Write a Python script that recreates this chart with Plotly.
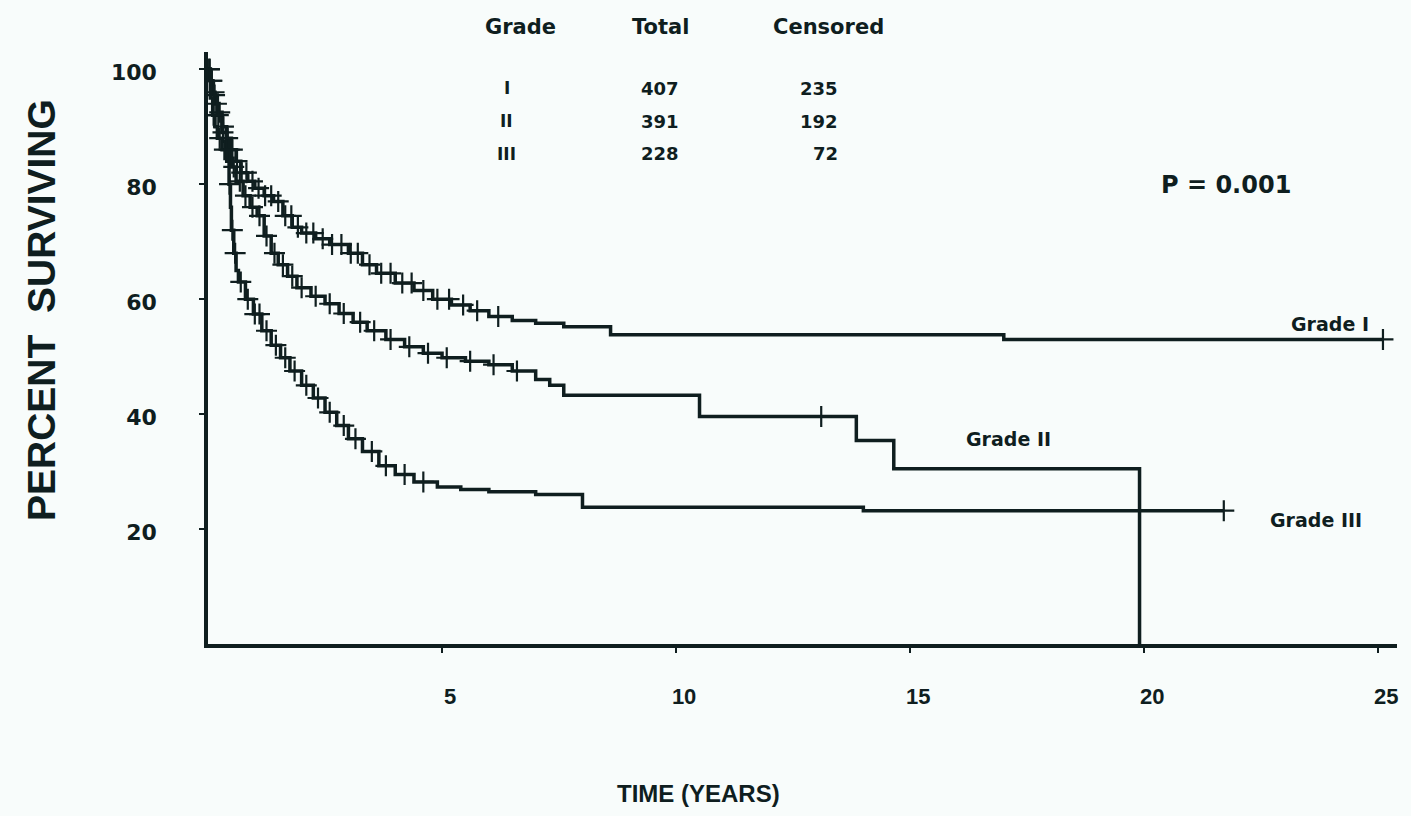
import numpy as np
import plotly.graph_objects as go

# ---- data ----
g1_t = [0, 0.05, 0.1, 0.15, 0.2, 0.3, 0.4, 0.5, 0.6, 0.7, 0.85, 1.0, 1.2, 1.4, 1.6, 1.8, 2.0, 2.3, 2.6,
        3.0, 3.3, 3.6, 4.0, 4.4, 4.8, 5.2, 5.6, 6.0, 6.5, 7.0, 7.6, 8.6, 17.0, 25.1]
g1_s = [100, 98, 96, 94, 92.5, 90, 88, 86, 84, 82, 80.5, 79.3, 78, 77, 74.5, 72.5, 71.5, 70.5, 69.5,
        68, 66, 64.5, 62.8, 61.5, 60, 59, 58, 57, 56.3, 55.8, 55.2, 53.8, 53.0, 53.0]
g1_c = [0.03, 0.08, 0.13, 0.18, 0.25, 0.33, 0.42, 0.52, 0.62, 0.72, 0.82, 0.95, 1.08, 1.22, 1.35, 1.5,
        1.65, 1.78, 1.92, 2.1, 2.25, 2.45, 2.65, 2.85, 3.05, 3.2, 3.45, 3.7, 3.9, 4.15, 4.35, 4.6, 4.9,
        5.15, 5.45, 5.75, 6.2, 25.1]

g2_t = [0, 0.05, 0.1, 0.2, 0.3, 0.4, 0.5, 0.6, 0.75, 0.9, 1.05, 1.2, 1.35, 1.5, 1.7, 1.9, 2.2, 2.5, 2.8,
        3.1, 3.4, 3.8, 4.2, 4.6, 5.0, 5.5, 6.0, 6.5, 7.0, 7.3, 7.6, 10.5, 13.85, 14.65, 19.9]
g2_s = [100, 98, 95.5, 92, 89, 86, 83, 80.5, 78, 76, 74.5, 71, 68, 66, 64, 62, 60.5, 59.2, 57.5,
        56, 54.5, 53, 51.7, 50.6, 49.8, 49.2, 48.6, 47.5, 46, 45, 43.3, 39.6, 35.4, 30.5, 0]
g2_c = [0.03, 0.08, 0.14, 0.22, 0.32, 0.45, 0.55, 0.68, 0.8, 0.95, 1.1, 1.25, 1.42, 1.6, 1.8, 2.0, 2.3,
        2.6, 2.9, 3.25, 3.55, 3.9, 4.3, 4.7, 5.1, 5.6, 6.1, 6.6, 13.1]

g3_t = [0, 0.05, 0.1, 0.15, 0.2, 0.3, 0.4, 0.45, 0.48, 0.5, 0.55, 0.6, 0.65, 0.8, 0.97, 1.15, 1.35,
        1.55, 1.75, 2.0, 2.25, 2.5, 2.75, 3.0, 3.3, 3.65, 4.0, 4.4, 4.9, 5.4, 6.0, 7.0, 8.0, 14.0, 21.7]
g3_s = [100, 95, 92, 90, 88, 86, 84, 80, 76, 72, 68, 65, 63, 60, 57.4, 54.5, 52, 49.8, 47.5, 45,
        42.8, 40.3, 38, 35.7, 33.5, 31, 29.5, 28.2, 27.3, 26.9, 26.5, 26, 23.8, 23.2, 23.2]
g3_c = [0.03, 0.12, 0.25, 0.35, 0.46, 0.52, 0.58, 0.7, 0.85, 1.0, 1.1, 1.25, 1.45, 1.65, 1.85, 2.1,
        2.35, 2.6, 2.9, 3.15, 3.5, 3.8, 4.2, 4.6, 21.7]

grades = ["I", "II", "III"]
totals = ["407", "391", "228"]
censored = ["235", "192", "72"]
x_ticks = [5, 10, 15, 20, 25]
y_ticks = [20, 40, 60, 80, 100]
p_text = "P = 0.001"

INK = "#0f1e1f"
BG = "#f8fcfb"
W, H = 1411, 816
L, R, T, B = 208, 14, 52, 172
PW, PH = W - L - R, H - T - B


def px(xp):
    return (xp - L) / PW


def py(yp):
    return (H - B - yp) / PH


def step_at(times, surv, c):
    i = int(np.searchsorted(np.asarray(times), c, side="right")) - 1
    return surv[max(i, 0)]


fig = go.Figure()
for t, s, c in [(g1_t, g1_s, g1_c), (g2_t, g2_s, g2_c), (g3_t, g3_s, g3_c)]:
    fig.add_trace(go.Scatter(x=t, y=s, mode="lines", line=dict(color=INK, width=3.5, shape="hv"),
                             showlegend=False, hoverinfo="skip"))
    fig.add_trace(go.Scatter(x=c, y=[step_at(t, s, v) for v in c], mode="markers",
                             marker=dict(symbol="cross-thin", size=15, line=dict(color=INK, width=2.2)),
                             showlegend=False, hoverinfo="skip"))

BOLD_D = dict(family="DejaVu Sans", weight="bold", color=INK)
BOLD_L = dict(family="Liberation Sans, Arial", weight="bold", color=INK)

ann = []
# table
for txt, xp in [("Grade", 520), ("Total", 660), ("Censored", 829)]:
    ann.append(dict(text=txt, x=px(xp), y=py(27), xref="paper", yref="paper", showarrow=False,
                    font=dict(size=21, **BOLD_D), xanchor="center", yanchor="middle"))
row_y = [88, 121, 154]
for g, tot, cen, yp in zip(grades, totals, censored, row_y):
    ann.append(dict(text=g, x=px(507), y=py(yp), xref="paper", yref="paper", showarrow=False,
                    font=dict(size=17, **BOLD_D), xanchor="center", yanchor="middle"))
    ann.append(dict(text=tot, x=px(660), y=py(yp), xref="paper", yref="paper", showarrow=False,
                    font=dict(size=18, **BOLD_D), xanchor="center", yanchor="middle"))
    ann.append(dict(text=cen, x=px(840), y=py(yp), xref="paper", yref="paper", showarrow=False,
                    font=dict(size=18, **BOLD_D), xanchor="right", yanchor="middle"))
# p value
ann.append(dict(text=p_text, x=21.75, y=79.8, xref="x", yref="y", showarrow=False,
                font=dict(size=24, **BOLD_D), xanchor="center", yanchor="middle"))
# curve labels
ann.append(dict(text="Grade I", x=24.85, y=55.6, xref="x", yref="y", showarrow=False,
                font=dict(size=19, **BOLD_D), xanchor="right", yanchor="middle"))
ann.append(dict(text="Grade II", x=16.15, y=35.6, xref="x", yref="y", showarrow=False,
                font=dict(size=19, **BOLD_D), xanchor="left", yanchor="middle"))
ann.append(dict(text="Grade III", x=22.65, y=21.6, xref="x", yref="y", showarrow=False,
                font=dict(size=19, **BOLD_D), xanchor="left", yanchor="middle"))
# axis titles
ann.append(dict(text="PERCENT  SURVIVING", x=px(41), y=py(310), xref="paper", yref="paper",
                showarrow=False, textangle=-90, font=dict(size=39, **BOLD_L),
                xanchor="center", yanchor="middle"))
ann.append(dict(text="TIME (YEARS)", x=px(698), y=py(793), xref="paper", yref="paper",
                showarrow=False, font=dict(size=24, **BOLD_L), xanchor="center", yanchor="middle"))

fig.update_layout(
    width=W, height=H, margin=dict(l=L, r=R, t=T, b=B),
    paper_bgcolor=BG, plot_bgcolor=BG, annotations=ann,
    xaxis=dict(range=[0, 25.4], showgrid=False, zeroline=False, showline=True, linewidth=3.5,
               linecolor=INK, tickvals=x_ticks, ticktext=[str(v) for v in x_ticks],
               ticks="outside", ticklen=5, tickwidth=2, tickcolor=INK,
               ticklabelstandoff=25, ticklabelshift=8,
               tickfont=dict(size=22, **BOLD_L)),
    yaxis=dict(range=[0, 103], showgrid=False, zeroline=False, showline=True, linewidth=3.5,
               linecolor=INK, tickvals=y_ticks, ticktext=[str(v) for v in y_ticks],
               ticks="outside", ticklen=5, tickwidth=2, tickcolor=INK,
               ticklabelstandoff=38, ticklabelshift=3,
               tickfont=dict(size=22, **BOLD_D)),
)

fig.write_html("out.html", config={"displayModeBar": False},
               post_script="document.body.style.margin='0';document.body.style.background='%s';" % BG)
